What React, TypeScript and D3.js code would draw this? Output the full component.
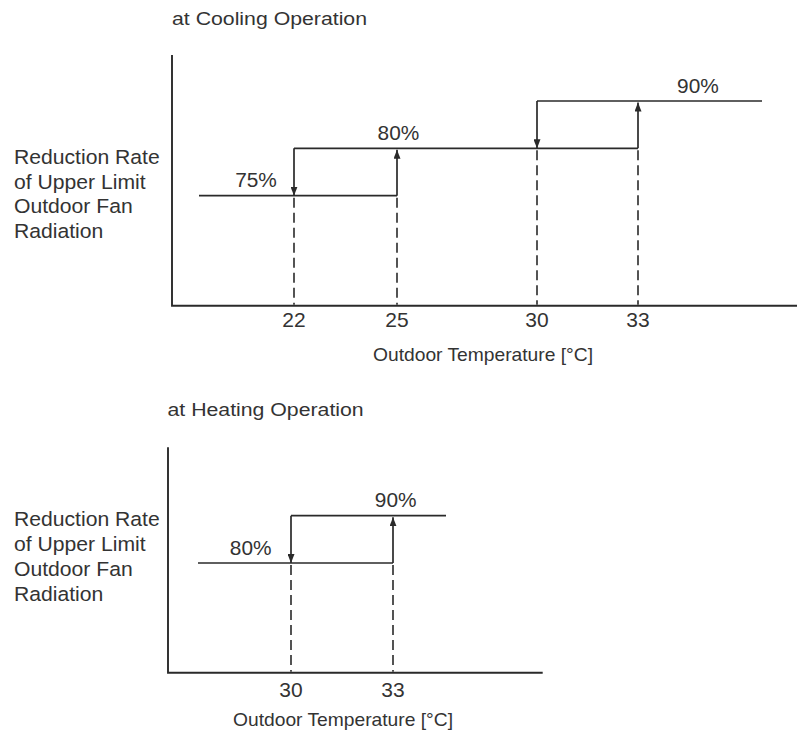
import React from "react";
import * as d3 from "d3";

// ---------- data ----------
const yLabelLines = ["Reduction Rate", "of Upper Limit", "Outdoor Fan", "Radiation"];
const xLabel = "Outdoor Temperature [\u00B0C]";

const coolingTitle = "at Cooling Operation";
const coolingLevels = ["75%", "80%", "90%"];
const coolingDownTemps = [22, 30]; // temperature falling: step down to level i
const coolingUpTemps = [25, 33]; // temperature rising: step up from level i
const coolingExtent = [20, 36]; // ends of the horizontal rate lines
const coolingTicks = [22, 25, 30, 33];
const coolingLabelTemps = [21.2, 25.05, 34.45];

const heatingTitle = "at Heating Operation";
const heatingLevels = ["80%", "90%"];
const heatingDownTemps = [30];
const heatingUpTemps = [33];
const heatingExtent = [27, 35];
const heatingTicks = [30, 33];
const heatingLabelTemps = [28.7, 33.1];

// ---------- layout ----------
const FONT = "'Liberation Sans', Arial, Helvetica, sans-serif";
const INK = "#2a2a2a";
const TXT = "#333";

type PanelLayout = {
  title: string;
  levels: string[];
  down: number[];
  up: number[];
  extent: number[];
  ticks: number[];
  labelTemps: number[];
  xStops: number[];
  xPix: number[];
  yPix: [number, number];
  axisX: number;
  axisTop: number;
  axisY: number;
  axisRight: number;
  titleX: number;
  titleY: number;
  sideY: number;
  sideStep: number;
  tickY: number;
  xLabelX: number;
  xLabelY: number;
};

const panels: PanelLayout[] = [
  {
    title: coolingTitle,
    levels: coolingLevels,
    down: coolingDownTemps,
    up: coolingUpTemps,
    extent: coolingExtent,
    ticks: coolingTicks,
    labelTemps: coolingLabelTemps,
    xStops: [coolingExtent[0], ...coolingTicks, coolingExtent[1]],
    xPix: [199, 294, 397, 537, 638, 762],
    yPix: [195.7, 101],
    axisX: 172,
    axisTop: 55,
    axisY: 305.7,
    axisRight: 797,
    titleX: 172,
    titleY: 24.5,
    sideY: 164,
    sideStep: 24.7,
    tickY: 327,
    xLabelX: 483,
    xLabelY: 361,
  },
  {
    title: heatingTitle,
    levels: heatingLevels,
    down: heatingDownTemps,
    up: heatingUpTemps,
    extent: heatingExtent,
    ticks: heatingTicks,
    labelTemps: heatingLabelTemps,
    xStops: [heatingExtent[0], ...heatingTicks, heatingExtent[1]],
    xPix: [198, 291, 393, 446],
    yPix: [563, 515.7],
    axisX: 168,
    axisTop: 447.3,
    axisY: 672.7,
    axisRight: 542.7,
    titleX: 167.5,
    titleY: 416,
    sideY: 526,
    sideStep: 25,
    tickY: 696.5,
    xLabelX: 343,
    xLabelY: 726,
  },
];

function T({
  x,
  y,
  size,
  sx = 1,
  anchor = "start",
  children,
}: {
  x: number;
  y: number;
  size: number;
  sx?: number;
  anchor?: string;
  children: React.ReactNode;
}) {
  return (
    <text
      transform={`translate(${x},${y}) scale(${sx},1)`}
      textAnchor={anchor}
      fontFamily={FONT}
      fontSize={size}
      fill={TXT}
    >
      {children}
    </text>
  );
}

function Panel({ p, idx }: { p: PanelLayout; idx: number }) {
  const x = d3.scaleLinear().domain(p.xStops).range(p.xPix);
  const y = d3.scalePoint<string>().domain(p.levels).range(p.yPix);
  const line = d3.line<[number, number]>();
  const n = p.levels.length;
  const markerId = `arrow${idx}`;

  const horiz = p.levels.map((lv, i) => {
    const x0 = i === 0 ? p.extent[0] : p.down[i - 1];
    const x1 = i === n - 1 ? p.extent[1] : p.up[i];
    return { lv, x0, x1 };
  });

  return (
    <g>
      <defs>
        <marker
          id={markerId}
          viewBox="0 0 9 7"
          refX={9}
          refY={3.5}
          markerWidth={9}
          markerHeight={7}
          markerUnits="userSpaceOnUse"
          orient="auto"
        >
          <path d="M0,0 L9,3.5 L0,7 Z" fill={INK} />
        </marker>
      </defs>

      <T x={p.titleX} y={p.titleY} size={18.5} sx={1.15}>
        {p.title}
      </T>

      {yLabelLines.map((s, i) => (
        <T key={s} x={14} y={p.sideY + i * p.sideStep} size={19.5} sx={1.085}>
          {s}
        </T>
      ))}

      <path
        d={line([
          [p.axisX, p.axisTop],
          [p.axisX, p.axisY],
          [p.axisRight, p.axisY],
        ]) || ""}
        fill="none"
        stroke={INK}
        strokeWidth={1.9}
      />

      {p.levels.slice(0, n - 1).map((lv, i) =>
        [p.down[i], p.up[i]].map((t) => (
          <path
            key={`d${lv}${t}`}
            d={line([
              [x(t), (y(lv) as number) + 2],
              [x(t), p.axisY - 1],
            ]) || ""}
            stroke={INK}
            strokeWidth={1.6}
            strokeDasharray="10,5"
            fill="none"
          />
        ))
      )}

      {horiz.map((h) => (
        <path
          key={`h${h.lv}`}
          d={line([
            [x(h.x0), y(h.lv) as number],
            [x(h.x1), y(h.lv) as number],
          ]) || ""}
          stroke={INK}
          strokeWidth={1.7}
          fill="none"
        />
      ))}

      {p.levels.slice(0, n - 1).map((lv, i) => {
        const lo = y(lv) as number;
        const hi = y(p.levels[i + 1]) as number;
        return (
          <g key={`t${lv}`}>
            <path
              d={line([
                [x(p.down[i]), hi],
                [x(p.down[i]), lo],
              ]) || ""}
              stroke={INK}
              strokeWidth={1.7}
              fill="none"
              markerEnd={`url(#${markerId})`}
            />
            <path
              d={line([
                [x(p.up[i]), lo],
                [x(p.up[i]), hi + 1.5],
              ]) || ""}
              stroke={INK}
              strokeWidth={1.7}
              fill="none"
              markerEnd={`url(#${markerId})`}
            />
          </g>
        );
      })}

      {p.levels.map((lv, i) => (
        <T
          key={`l${lv}`}
          x={x(p.labelTemps[i])}
          y={(y(lv) as number) - 8.5}
          size={19.5}
          sx={1.07}
          anchor="middle"
        >
          {lv}
        </T>
      ))}

      {p.ticks.map((t) => (
        <T key={`k${t}`} x={x(t)} y={p.tickY} size={20} sx={1.05} anchor="middle">
          {t}
        </T>
      ))}

      <T x={p.xLabelX} y={p.xLabelY} size={18.5} sx={1.04} anchor="middle">
        {xLabel}
      </T>
    </g>
  );
}

export default function App() {
  return (
    <svg
      width={797}
      height={731}
      style={{ position: "absolute", left: 0, top: 0, background: "#fff" }}
    >
      <rect width={797} height={731} fill="#fff" />
      {panels.map((p, i) => (
        <Panel key={p.title} p={p} idx={i} />
      ))}
    </svg>
  );
}
